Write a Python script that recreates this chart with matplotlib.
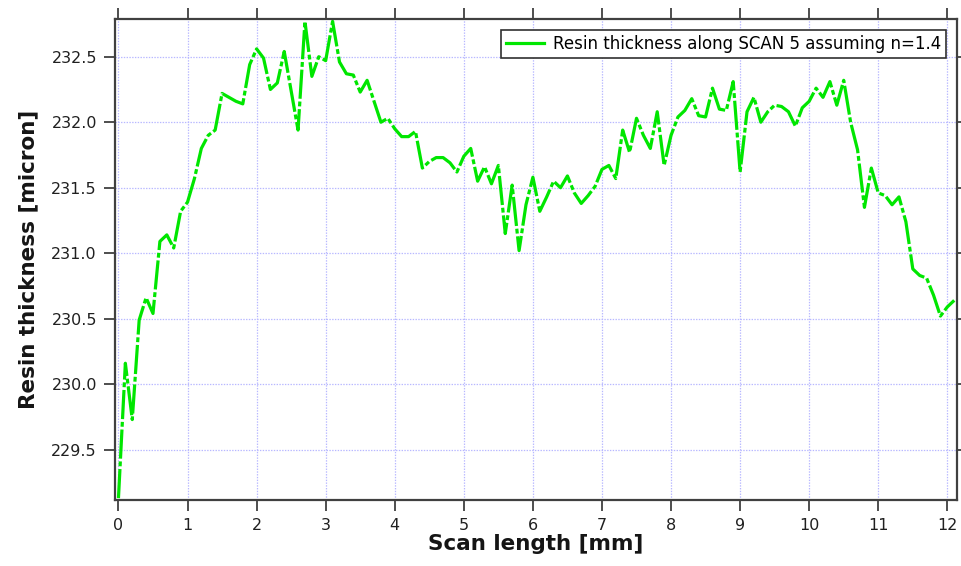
import matplotlib
matplotlib.use("Agg")
import matplotlib.pyplot as plt

# Scan position [mm] and measured resin thickness [micron]
scan_mm = [
    0.0, 0.1, 0.2, 0.3, 0.4, 0.5, 0.6, 0.7, 0.8, 0.9,
    1.0, 1.1, 1.2, 1.3, 1.4, 1.5, 1.6, 1.7, 1.8, 1.9,
    2.0, 2.1, 2.2, 2.3, 2.4, 2.5, 2.6, 2.7, 2.8, 2.9,
    3.0, 3.1, 3.2, 3.3, 3.4, 3.5, 3.6, 3.7, 3.8, 3.9,
    4.0, 4.1, 4.2, 4.3, 4.4, 4.5, 4.6, 4.7, 4.8, 4.9,
    5.0, 5.1, 5.2, 5.3, 5.4, 5.5, 5.6, 5.7, 5.8, 5.9,
    6.0, 6.1, 6.2, 6.3, 6.4, 6.5, 6.6, 6.7, 6.8, 6.9,
    7.0, 7.1, 7.2, 7.3, 7.4, 7.5, 7.6, 7.7, 7.8, 7.9,
    8.0, 8.1, 8.2, 8.3, 8.4, 8.5, 8.6, 8.7, 8.8, 8.9,
    9.0, 9.1, 9.2, 9.3, 9.4, 9.5, 9.6, 9.7, 9.8, 9.9,
    10.0, 10.1, 10.2, 10.3, 10.4, 10.5, 10.6, 10.7, 10.8, 10.9,
    11.0, 11.1, 11.2, 11.3, 11.4, 11.5, 11.6, 11.7, 11.8, 11.9,
    12.0, 12.1,
]
thickness_um = [
    229.13, 230.16, 229.73, 230.49, 230.66, 230.54, 231.09, 231.14, 231.04, 231.32,
    231.39, 231.57, 231.80, 231.90, 231.94, 232.22, 232.19, 232.16, 232.14, 232.44,
    232.56, 232.49, 232.25, 232.30, 232.54, 232.24, 231.94, 232.77, 232.35, 232.50,
    232.47, 232.77, 232.46, 232.37, 232.36, 232.23, 232.32, 232.16, 232.00, 232.03,
    231.95, 231.89, 231.89, 231.93, 231.65, 231.70, 231.73, 231.73, 231.69, 231.62,
    231.74, 231.80, 231.55, 231.66, 231.53, 231.67, 231.15, 231.52, 231.02, 231.37,
    231.58, 231.32, 231.43, 231.55, 231.50, 231.59, 231.46, 231.38, 231.44, 231.51,
    231.64, 231.67, 231.57, 231.94, 231.77, 232.03, 231.90, 231.80, 232.08, 231.67,
    231.90, 232.04, 232.09, 232.18, 232.05, 232.04, 232.26, 232.10, 232.09, 232.31,
    231.62, 232.08, 232.19, 232.00, 232.08, 232.13, 232.12, 232.08, 231.97, 232.11,
    232.16, 232.26, 232.19, 232.31, 232.13, 232.32, 232.00, 231.79, 231.35, 231.65,
    231.46, 231.44, 231.37, 231.43, 231.24, 230.88, 230.83, 230.81, 230.68, 230.52,
    230.59, 230.64,
]
x_ticks = [0, 1, 2, 3, 4, 5, 6, 7, 8, 9, 10, 11, 12]
y_ticks = [229.5, 230.0, 230.5, 231.0, 231.5, 232.0, 232.5]
series_label = "Resin thickness along SCAN 5 assuming n=1.4"

plt.rcParams["font.family"] = ["DejaVu Sans"]
plt.rcParams["lines.scale_dashes"] = False

fig = plt.figure(figsize=(9.62, 5.66), dpi=100)
ax = fig.add_axes([115 / 962, 1 - 500 / 566, (957 - 115) / 962, (500 - 19) / 566])

green = "#00e600"
line, = ax.plot(scan_mm, thickness_um, color=green, linewidth=2.3,
                solid_joinstyle="round", label=series_label)
line.set_dashes([21, 2.0, 3.5, 2.0])

ax.set_xlim(-0.05, 12.14)
ax.set_ylim(229.116, 232.788)
ax.set_xticks(x_ticks)
ax.set_yticks(y_ticks)
ax.set_yticklabels([f"{v:.1f}" for v in y_ticks])

ax.grid(True, color="#b8b8ff", linestyle=(0, (1, 1)), linewidth=0.9)
ax.set_axisbelow(True)

edge = "#404040"
for s in ax.spines.values():
    s.set_color(edge)
    s.set_linewidth(1.6)
ax.tick_params(axis="both", which="major", direction="out", length=8, width=1.3,
               color=edge, labelsize=11.5, labelcolor="#202020", pad=5,
               top=True, right=True, labeltop=False, labelright=False)

ax.set_xlabel("Scan length [mm]", fontsize=15.5, fontweight="bold",
              color="#151515", labelpad=1)
ax.set_ylabel("Resin thickness [micron]", fontsize=15.5, fontweight="bold",
              color="#151515", labelpad=9)

leg_handle = plt.Line2D([], [], color=green, linewidth=2.3)
leg = ax.legend([leg_handle], [series_label], loc="upper right",
                bbox_to_anchor=(946 / 962, 1 - 30 / 566), bbox_transform=fig.transFigure,
                fontsize=12, frameon=True, fancybox=False, framealpha=1,
                edgecolor="#303030", borderpad=0.3, handlelength=2.3,
                handletextpad=0.5, borderaxespad=0)
leg.get_frame().set_linewidth(1.2)

fig.savefig("out.png", dpi=100)
